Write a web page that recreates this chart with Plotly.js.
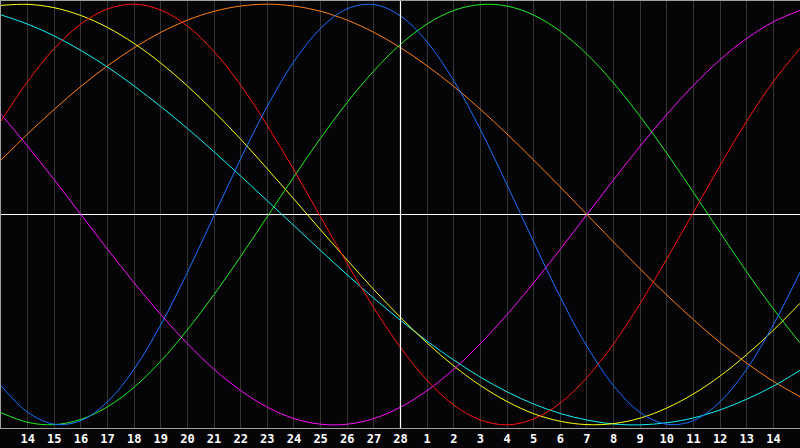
<!DOCTYPE html>
<html><head><meta charset="utf-8">
<script src="https://cdn.plot.ly/plotly-3.0.1.min.js"></script>
<style>html,body{margin:0;padding:0;background:#050508;}#c{width:800px;height:448px;}</style>
</head><body><div id="c"></div>
<script>
// day labels for positions 0..30
const dayLabels = ['13','14','15','16','17','18','19','20','21','22','23','24','25','26','27','28','1','2','3','4','5','6','7','8','9','10','11','12','13','14','15'];
const todayIndex = 15;
// cycle values per day (-1..1)
const cycle23 = [-0.814,-0.940,-0.997,-0.980,-0.890,-0.735,-0.524,-0.275,-0.005,0.265,0.515,0.727,0.885,0.978,0.998,0.944,0.820,0.636,0.404,0.141,-0.131,-0.393,-0.627,-0.814,-0.941,-0.997,-0.980,-0.890,-0.735,-0.524,-0.275];
const cycle28 = [0.444,0.632,0.789,0.906,0.977,1.000,0.972,0.896,0.775,0.615,0.423,0.211,-0.011,-0.233,-0.444,-0.632,-0.789,-0.906,-0.977,-1.000,-0.972,-0.896,-0.775,-0.615,-0.423,-0.211,0.011,0.233,0.444,0.632,0.789];
const cycle33 = [-0.942,-0.988,-0.999,-0.974,-0.914,-0.821,-0.697,-0.548,-0.381,-0.199,-0.010,0.180,0.363,0.533,0.683,0.809,0.906,0.970,0.998,0.991,0.948,0.871,0.762,0.625,0.466,0.291,0.105,-0.085,-0.273,-0.449,-0.610];
const cycle38 = [0.476,0.325,0.165,0.000,-0.165,-0.325,-0.476,-0.614,-0.736,-0.837,-0.916,-0.970,-0.997,-0.997,-0.970,-0.916,-0.837,-0.736,-0.614,-0.476,-0.325,-0.165,0.000,0.165,0.325,0.476,0.614,0.736,0.837,0.916,0.970];
const cycle43 = [0.994,0.999,0.983,0.946,0.889,0.813,0.720,0.611,0.489,0.358,0.217,0.073,-0.073,-0.217,-0.357,-0.489,-0.611,-0.720,-0.813,-0.889,-0.947,-0.983,-0.999,-0.994,-0.968,-0.920,-0.853,-0.768,-0.666,-0.550,-0.422];
const cycle48 = [0.259,0.383,0.500,0.609,0.707,0.793,0.866,0.924,0.966,0.991,1.000,0.991,0.966,0.924,0.866,0.793,0.707,0.609,0.500,0.383,0.259,0.131,0.000,-0.131,-0.259,-0.383,-0.500,-0.609,-0.707,-0.793,-0.866];
const cycle53 = [0.949,0.905,0.849,0.780,0.701,0.611,0.513,0.409,0.298,0.183,0.065,-0.053,-0.171,-0.287,-0.398,-0.503,-0.602,-0.692,-0.773,-0.843,-0.901,-0.946,-0.977,-0.996,-1.000,-0.990,-0.967,-0.929,-0.878,-0.816,-0.741];

const xs = dayLabels.map((d,i)=>i);
const series = [
  {y: cycle48, color:'#ff8010'},
  {y: cycle53, color:'#10f0f0'},
  {y: cycle43, color:'#ffff10'},
  {y: cycle38, color:'#ff10ff'},
  {y: cycle33, color:'#20f020'},
  {y: cycle28, color:'#ff1010'},
  {y: cycle23, color:'#1870ff'}
];
const traces = series.map(s=>({x: xs, y: s.y, type:'scatter', mode:'lines',
  line:{color:s.color, width:1, shape:'spline', smoothing:1}, hoverinfo:'none'}));

const tickIdx = xs.filter(i=>i>0 && i<xs.length-1);
const layout = {
  width:800, height:448,
  margin:{l:1, r:0, t:1, b:20, pad:0},
  paper_bgcolor:'#050508', plot_bgcolor:'#050508',
  showlegend:false,
  xaxis:{range:[0,30], tickvals:tickIdx, ticktext:tickIdx.map(i=>dayLabels[i]),
    showgrid:true, gridcolor:'#353535', gridwidth:1, zeroline:false,
    showline:true, linecolor:'#a0a0a0', linewidth:1, mirror:true, ticks:'',
    tickfont:{family:'DejaVu Sans Mono', size:12, color:'#ffffff', weight:'bold'}, fixedrange:true},
  yaxis:{range:[-1.015,1.015], showgrid:false, zeroline:true, zerolinecolor:'#ffffff', zerolinewidth:1,
    showticklabels:false, ticks:'', showline:true, linecolor:'#a0a0a0', linewidth:1, fixedrange:true},
  shapes:[{type:'line', xref:'x', yref:'paper', x0:todayIndex, x1:todayIndex, y0:0, y1:1,
    line:{color:'#ffffff', width:1.2}, layer:'above'}]
};
Plotly.newPlot('c', traces, layout, {staticPlot:true, displayModeBar:false});
</script></body></html>
